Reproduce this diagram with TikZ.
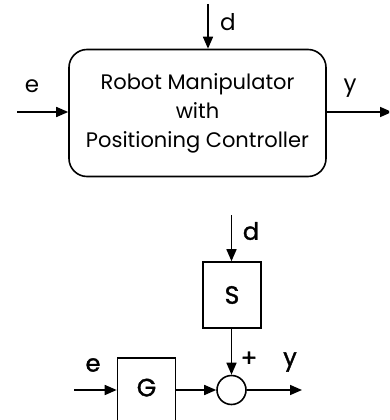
\documentclass[tikz,border=0pt]{standalone}
\usepackage{fontspec}
\setmainfont{Poppins}
\newfontfamily\medfont[FakeBold=1.5]{Poppins}
\usetikzlibrary{arrows.meta}
\begin{document}
\begin{tikzpicture}[x=1pt,y=-1pt,
  line width=1.6pt,
  sig/.style={-{Triangle[length=12pt,width=10pt]}},
  blk/.style={draw,minimum width=58pt,minimum height=66pt,inner sep=0pt,font=\medfont\fontsize{25}{28}\selectfont},
  lbl/.style={font=\fontsize{23}{26}\selectfont,inner sep=0pt},
  lblb/.style={font=\medfont\fontsize{24}{26}\selectfont,inner sep=0pt}]
\clip (0,0) rectangle (389,420);
% top diagram
\node[draw,rounded corners=18pt,minimum width=257pt,minimum height=127pt,inner sep=0pt,
      align=center,font=\fontsize{21}{29}\selectfont] (robot) at (197.5,113)
      {Robot Manipulator\\with\\Positioning Controller};
\coordinate (ein) at (17,112);
\coordinate (yout) at (392,112);
\coordinate (din) at (208,4);
\draw[sig] (ein) -- (ein -| robot.west);
\draw[sig] (yout -| robot.east) -- (yout);
\draw[sig] (din) -- (din |- robot.north);
\node[lbl] (le) at (32,86) {e};
\node[lbl] (ld) at (228,22) {d};
\node[lbl] (ly) at (350,88) {y};
% bottom diagram
\node[blk] (S) at (232,295) {S};
\node[blk] (G) at (146.5,391) {\raisebox{7pt}{G}};
\node[draw,circle,minimum size=29pt,inner sep=0pt] (sum) at (231.5,390) {};
\coordinate (d2) at (231.5,215);
\coordinate (e2) at (74,390);
\coordinate (y2) at (302,390);
\draw[sig] (d2) -- (d2 |- S.north);
\draw[sig] (S.south -| sum.north) -- (sum.north);
\draw[sig] (e2) -- (G.west |- e2);
\draw[sig] (G.east |- sum.west) -- (sum.west);
\draw[sig] (sum.east) -- (y2);
\node[lblb] (ld2) at (251,231) {d};
\node[lblb] (lplus) at (249,359) {+};
\node[lblb] (le2) at (93,365) {e};
\node[lblb] (ly2) at (290,362) {y};
\end{tikzpicture}
\end{document}
